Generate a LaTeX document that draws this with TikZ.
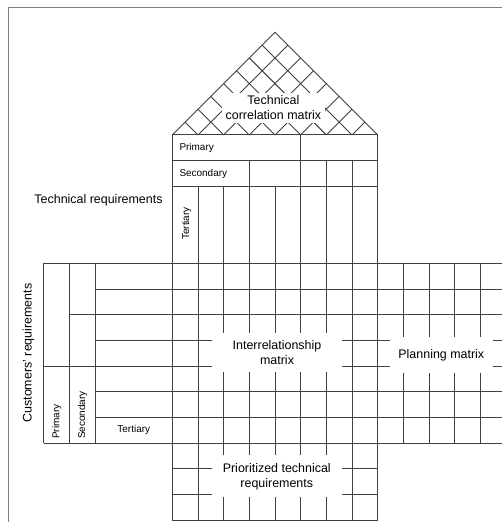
\documentclass[tikz,border=0pt]{standalone}
\usepackage{fontspec}
\setmainfont{Liberation Sans}
\begin{document}
\begin{tikzpicture}[x=25.67bp, y=-25.67bp,
  grid/.style={draw=black!75, line width=0.9bp},
  frameline/.style={draw=black!50, line width=1.6bp},
  biglabel/.style={font=\fontsize{12.5}{15}\selectfont, align=center, fill=white, inner sep=0pt},
  plainlabel/.style={font=\fontsize{12.5}{15}\selectfont, align=center, inner sep=0pt},
  smalllabel/.style={font=\fontsize{10}{12}\selectfont, inner sep=0pt}]
\clip (-6.712,-10.257) rectangle (12.844,10.078);
\fill[white] (-6.712,-10.257) rectangle (12.844,10.078);

% outer frame (runs past the right and bottom edges)
\draw[frameline] (13,-9.957) -- (-6.381,-9.957) -- (-6.381,11);

% roof: technical correlation lattice
\draw[grid, line join=miter] (0,-5) -- (4,-9) -- (8,-5);
\foreach \i in {1,...,7} {
  \draw[grid] (\i,-5) -- ({\i/2},{-5-\i/2});
  \draw[grid] (\i,-5) -- ({(8+\i)/2},{-5-(8-\i)/2});
}

% technical requirements header
\foreach \y in {-5,-4,-3} \draw[grid] (0,\y) -- (8,\y);
\draw[grid] (0,-5) -- (0,10);
\draw[grid] (8,-5) -- (8,10);
\draw[grid] (5,-5) -- (5,-3);
\foreach \x in {3,6,7} \draw[grid] (\x,-4) -- (\x,-3);
\foreach \x in {1,...,7} \draw[grid] (\x,-3) -- (\x,10);

% interrelationship and planning rows
\foreach \y in {0,...,7} \draw[grid] (0,\y) -- (13,\y);
\foreach \x in {9,...,12} \draw[grid] (\x,0) -- (\x,7);

% prioritized technical requirements rows
\foreach \y in {8,9,10} \draw[grid] (0,\y) -- (8,\y);

% customers' requirements table
\draw[grid] (-5,0) -- (0,0);
\draw[grid] (-5,7) -- (0,7);
\draw[grid] (-5,0) -- (-5,7);
\draw[grid] (-4,0) -- (-4,7);
\draw[grid] (-3,0) -- (-3,7);
\draw[grid] (-5,4) -- (0,4);
\draw[grid] (-4,2) -- (0,2);
\foreach \y in {1,3,5,6} \draw[grid] (-3,\y) -- (0,\y);

% labels
\node[biglabel, minimum width=103bp, minimum height=30bp] (corr) at (3.94,-6.05) {Technical\\correlation matrix};
\node[biglabel, minimum width=130bp, minimum height=39bp] (inter) at (4.08,3.475) {Interrelationship\\matrix};
\node[biglabel, minimum width=103bp, minimum height=36bp] (plan) at (10.48,3.57) {Planning matrix};
\node[biglabel, minimum width=130bp, minimum height=42bp] (prio) at (4.07,8.3) {Prioritized technical\\requirements};

\node[plainlabel] (techreq) at (-2.875,-2.466) {Technical requirements};
\node[plainlabel, rotate=90] (custreq) at (-5.61,3.494) {Customers' requirements};

\node[smalllabel, anchor=west] (tprim) at (0.273,-4.5) {Primary};
\node[smalllabel, anchor=west] (tsec) at (0.273,-3.5) {Secondary};
\node[smalllabel, rotate=90] (tter) at (0.56,-1.55) {Tertiary};

\node[smalllabel, rotate=90, anchor=west] (cprim) at (-4.5,6.85) {Primary};
\node[smalllabel, rotate=90, anchor=west] (csec) at (-3.5,6.85) {Secondary};
\node[smalllabel] (cter) at (-1.5,6.5) {Tertiary};
\end{tikzpicture}
\end{document}
